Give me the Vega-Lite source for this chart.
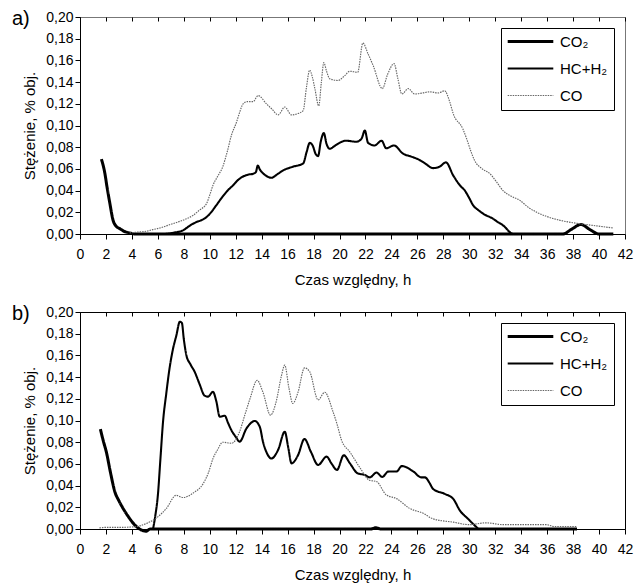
{
  "$schema": "https://vega.github.io/schema/vega-lite/v6.json",
  "padding": {"left": 11, "top": 8, "right": 5, "bottom": 5},
  "spacing": 15,
  "config": {
    "font": "Liberation Sans",
    "axis": {
      "domainColor": "#000", "tickColor": "#000", "labelColor": "#000", "titleColor": "#000",
      "labelFontSize": 14, "titleFontSize": 15, "titleFontWeight": "normal", "grid": false, "tickSize": 5,
      "labelFont": "Liberation Sans", "titleFont": "Liberation Sans"
    },
    "legend": {
      "orient": "top-right", "offset": 11, "padding": 6, "strokeColor": "#000", "fillColor": "#fff",
      "symbolType": "M-4,0H4", "symbolSize": 130, "symbolOffset": 16, "labelFontSize": 15, "labelColor": "#000",
      "labelFont": "Liberation Sans", "rowPadding": 11, "labelOffset": 22, "symbolStrokeColor": "#000"
    },
    "title": {"font": "Liberation Sans", "fontSize": 20, "fontWeight": "normal", "color": "#000"}
  },
  "vconcat": [
    {
      "width": 545, "height": 217,
      "title": {"text": "a)", "anchor": "start", "frame": "group", "dx": -68, "dy": 29, "offset": 0, "baseline": "middle"},
      "view": {"stroke": "#777"},
      "data": {"values": [
        {"s":"CO₂","t":1.65,"c":0.069},{"s":"CO₂","t":1.9,"c":0.057},{"s":"CO₂","t":2.1,"c":0.042},{"s":"CO₂","t":2.29,"c":0.029},{"s":"CO₂","t":2.55,"c":0.0126},{"s":"CO₂","t":2.8,"c":0.007},{"s":"CO₂","t":3.06,"c":0.005},{"s":"CO₂","t":3.4,"c":0.0025},{"s":"CO₂","t":3.83,"c":0.001},{"s":"CO₂","t":4.2,"c":0},{"s":"CO₂","t":10,"c":0},{"s":"CO₂","t":20,"c":0},{"s":"CO₂","t":30,"c":0},{"s":"CO₂","t":37.2,"c":0},{"s":"CO₂","t":37.9,"c":0.0045},{"s":"CO₂","t":38.6,"c":0.0088},{"s":"CO₂","t":39.3,"c":0.004},{"s":"CO₂","t":40.0,"c":0},{"s":"CO₂","t":41.1,"c":0},
        {"s":"HC+H₂","t":4.5,"c":0},{"s":"HC+H₂","t":6.4,"c":0},{"s":"HC+H₂","t":7.2,"c":0.0012},{"s":"HC+H₂","t":7.94,"c":0.0034},{"s":"HC+H₂","t":8.5,"c":0.008},{"s":"HC+H₂","t":8.97,"c":0.011},{"s":"HC+H₂","t":9.4,"c":0.013},{"s":"HC+H₂","t":9.75,"c":0.0156},{"s":"HC+H₂","t":10.1,"c":0.02},{"s":"HC+H₂","t":10.5,"c":0.0264},{"s":"HC+H₂","t":10.9,"c":0.033},{"s":"HC+H₂","t":11.3,"c":0.039},{"s":"HC+H₂","t":11.8,"c":0.045},{"s":"HC+H₂","t":12.2,"c":0.05},{"s":"HC+H₂","t":12.57,"c":0.053},{"s":"HC+H₂","t":13.0,"c":0.0548},{"s":"HC+H₂","t":13.34,"c":0.0555},{"s":"HC+H₂","t":13.55,"c":0.057},{"s":"HC+H₂","t":13.7,"c":0.063},{"s":"HC+H₂","t":13.86,"c":0.0595},{"s":"HC+H₂","t":14.3,"c":0.054},{"s":"HC+H₂","t":14.75,"c":0.0518},{"s":"HC+H₂","t":15.2,"c":0.055},{"s":"HC+H₂","t":15.65,"c":0.0586},{"s":"HC+H₂","t":16.4,"c":0.062},{"s":"HC+H₂","t":17.2,"c":0.065},{"s":"HC+H₂","t":17.45,"c":0.075},{"s":"HC+H₂","t":17.71,"c":0.084},{"s":"HC+H₂","t":17.95,"c":0.081},{"s":"HC+H₂","t":18.15,"c":0.074},{"s":"HC+H₂","t":18.35,"c":0.0718},{"s":"HC+H₂","t":18.55,"c":0.085},{"s":"HC+H₂","t":18.79,"c":0.093},{"s":"HC+H₂","t":19.0,"c":0.083},{"s":"HC+H₂","t":19.25,"c":0.0785},{"s":"HC+H₂","t":19.6,"c":0.081},{"s":"HC+H₂","t":20.0,"c":0.084},{"s":"HC+H₂","t":20.5,"c":0.086},{"s":"HC+H₂","t":21.3,"c":0.085},{"s":"HC+H₂","t":21.7,"c":0.088},{"s":"HC+H₂","t":21.95,"c":0.0954},{"s":"HC+H₂","t":22.2,"c":0.084},{"s":"HC+H₂","t":22.7,"c":0.0816},{"s":"HC+H₂","t":23.24,"c":0.086},{"s":"HC+H₂","t":23.6,"c":0.079},{"s":"HC+H₂","t":24.2,"c":0.0816},{"s":"HC+H₂","t":24.9,"c":0.074},{"s":"HC+H₂","t":25.5,"c":0.0715},{"s":"HC+H₂","t":26.2,"c":0.068},{"s":"HC+H₂","t":26.6,"c":0.065},{"s":"HC+H₂","t":27.2,"c":0.0607},{"s":"HC+H₂","t":27.7,"c":0.062},{"s":"HC+H₂","t":28.2,"c":0.066},{"s":"HC+H₂","t":28.76,"c":0.054},{"s":"HC+H₂","t":29.28,"c":0.0448},{"s":"HC+H₂","t":29.66,"c":0.04},{"s":"HC+H₂","t":30.0,"c":0.033},{"s":"HC+H₂","t":30.3,"c":0.0264},{"s":"HC+H₂","t":30.7,"c":0.022},{"s":"HC+H₂","t":31.07,"c":0.0187},{"s":"HC+H₂","t":31.84,"c":0.014},{"s":"HC+H₂","t":32.2,"c":0.011},{"s":"HC+H₂","t":32.6,"c":0.008},{"s":"HC+H₂","t":33.4,"c":0},{"s":"HC+H₂","t":34.0,"c":0},
        {"s":"CO","t":3.83,"c":0.001},{"s":"CO","t":4.5,"c":0.0018},{"s":"CO","t":5.1,"c":0.0025},{"s":"CO","t":5.6,"c":0.004},{"s":"CO","t":6.15,"c":0.0055},{"s":"CO","t":6.9,"c":0.0085},{"s":"CO","t":7.7,"c":0.0117},{"s":"CO","t":8.2,"c":0.014},{"s":"CO","t":8.7,"c":0.017},{"s":"CO","t":9.2,"c":0.022},{"s":"CO","t":9.75,"c":0.028},{"s":"CO","t":10.0,"c":0.036},{"s":"CO","t":10.25,"c":0.045},{"s":"CO","t":10.6,"c":0.053},{"s":"CO","t":11.0,"c":0.062},{"s":"CO","t":11.35,"c":0.076},{"s":"CO","t":11.67,"c":0.091},{"s":"CO","t":12.06,"c":0.103},{"s":"CO","t":12.3,"c":0.112},{"s":"CO","t":12.57,"c":0.12},{"s":"CO","t":12.9,"c":0.122},{"s":"CO","t":13.34,"c":0.122},{"s":"CO","t":13.73,"c":0.1276},{"s":"CO","t":14.37,"c":0.12},{"s":"CO","t":14.8,"c":0.115},{"s":"CO","t":15.27,"c":0.1098},{"s":"CO","t":15.78,"c":0.117},{"s":"CO","t":16.3,"c":0.1098},{"s":"CO","t":16.8,"c":0.111},{"s":"CO","t":17.2,"c":0.1138},{"s":"CO","t":17.45,"c":0.135},{"s":"CO","t":17.7,"c":0.151},{"s":"CO","t":17.9,"c":0.145},{"s":"CO","t":18.1,"c":0.134},{"s":"CO","t":18.4,"c":0.118},{"s":"CO","t":18.6,"c":0.14},{"s":"CO","t":18.79,"c":0.158},{"s":"CO","t":19.0,"c":0.15},{"s":"CO","t":19.25,"c":0.143},{"s":"CO","t":19.9,"c":0.1415},{"s":"CO","t":20.4,"c":0.146},{"s":"CO","t":20.8,"c":0.15},{"s":"CO","t":21.4,"c":0.149},{"s":"CO","t":21.8,"c":0.176},{"s":"CO","t":22.2,"c":0.166},{"s":"CO","t":22.6,"c":0.155},{"s":"CO","t":23.3,"c":0.134},{"s":"CO","t":23.7,"c":0.147},{"s":"CO","t":24.2,"c":0.157},{"s":"CO","t":24.5,"c":0.143},{"s":"CO","t":24.8,"c":0.129},{"s":"CO","t":25.3,"c":0.134},{"s":"CO","t":25.8,"c":0.129},{"s":"CO","t":26.4,"c":0.13},{"s":"CO","t":26.96,"c":0.131},{"s":"CO","t":27.6,"c":0.13},{"s":"CO","t":28.1,"c":0.132},{"s":"CO","t":28.5,"c":0.1215},{"s":"CO","t":28.76,"c":0.111},{"s":"CO","t":29.5,"c":0.097},{"s":"CO","t":29.8,"c":0.0877},{"s":"CO","t":30.1,"c":0.077},{"s":"CO","t":30.4,"c":0.068},{"s":"CO","t":31.0,"c":0.06},{"s":"CO","t":31.6,"c":0.0555},{"s":"CO","t":32.1,"c":0.048},{"s":"CO","t":32.6,"c":0.04},{"s":"CO","t":33.2,"c":0.035},{"s":"CO","t":33.9,"c":0.031},{"s":"CO","t":34.5,"c":0.025},{"s":"CO","t":35.2,"c":0.02},{"s":"CO","t":36.0,"c":0.016},{"s":"CO","t":37.0,"c":0.0126},{"s":"CO","t":38.5,"c":0.0095},{"s":"CO","t":39.8,"c":0.0075},{"s":"CO","t":41.1,"c":0.0055}
      ]},
      "mark": {"type": "line", "interpolate": "monotone"},
      "encoding": {
        "x": {"field": "t", "type": "quantitative", "scale": {"domain": [0, 42], "nice": false},
              "axis": {"title": "Czas względny, h", "values": [0,2,4,6,8,10,12,14,16,18,20,22,24,26,28,30,32,34,36,38,40,42],
                       "labelPadding": 8, "titlePadding": 11, "grid": true, "gridColor": "#000", "gridDash": [4, 1000], "gridOpacity": 1, "labelFlush": false}},
        "y": {"field": "c", "type": "quantitative", "scale": {"domain": [0, 0.2], "nice": false},
              "axis": {"title": "Stężenie, % obj.", "values": [0,0.02,0.04,0.06,0.08,0.1,0.12,0.14,0.16,0.18,0.2],
                       "labelExpr": "replace(format(datum.value, '.2f'), '.', ',')", "labelPadding": 2, "titlePadding": 8}},
        "color": {"field": "s", "type": "nominal", "scale": {"domain": ["CO₂","HC+H₂","CO"], "range": ["#000","#000","#666"]}, "legend": {"title": null}},
        "strokeWidth": {"field": "s", "type": "nominal", "scale": {"domain": ["CO₂","HC+H₂","CO"], "range": [3, 1.15, 1.1]}, "legend": {"title": null}},
        "strokeDash": {"field": "s", "type": "nominal", "scale": {"domain": ["CO₂","HC+H₂","CO"], "range": [[1,0],[1,0],[1.5,1]]}, "legend": {"title": null}}
      }
    },
    {
      "width": 545, "height": 217,
      "title": {"text": "b)", "anchor": "start", "frame": "group", "dx": -68, "dy": 29, "offset": 0, "baseline": "middle"},
      "view": {"stroke": "#000"},
      "data": {"values": [
        {"s":"CO₂","t":1.57,"c":0.092},{"s":"CO₂","t":1.8,"c":0.081},{"s":"CO₂","t":2.03,"c":0.071},{"s":"CO₂","t":2.35,"c":0.052},{"s":"CO₂","t":2.68,"c":0.0345},{"s":"CO₂","t":3.0,"c":0.026},{"s":"CO₂","t":3.32,"c":0.019},{"s":"CO₂","t":3.75,"c":0.011},{"s":"CO₂","t":4.2,"c":0.004},{"s":"CO₂","t":4.59,"c":0},{"s":"CO₂","t":5.1,"c":-0.002},{"s":"CO₂","t":5.4,"c":0},{"s":"CO₂","t":10,"c":0},{"s":"CO₂","t":20,"c":0},{"s":"CO₂","t":22.4,"c":0},{"s":"CO₂","t":22.8,"c":0.0012},{"s":"CO₂","t":23.2,"c":0},{"s":"CO₂","t":30,"c":0},{"s":"CO₂","t":38.3,"c":0},
        {"s":"HC+H₂","t":5.63,"c":0},{"s":"HC+H₂","t":5.8,"c":0.012},{"s":"HC+H₂","t":6.0,"c":0.031},{"s":"HC+H₂","t":6.2,"c":0.065},{"s":"HC+H₂","t":6.4,"c":0.099},{"s":"HC+H₂","t":6.65,"c":0.125},{"s":"HC+H₂","t":6.9,"c":0.148},{"s":"HC+H₂","t":7.15,"c":0.165},{"s":"HC+H₂","t":7.43,"c":0.1786},{"s":"HC+H₂","t":7.69,"c":0.191},{"s":"HC+H₂","t":7.85,"c":0.19},{"s":"HC+H₂","t":8.0,"c":0.175},{"s":"HC+H₂","t":8.2,"c":0.16},{"s":"HC+H₂","t":8.5,"c":0.152},{"s":"HC+H₂","t":8.84,"c":0.1448},{"s":"HC+H₂","t":9.2,"c":0.134},{"s":"HC+H₂","t":9.6,"c":0.123},{"s":"HC+H₂","t":9.87,"c":0.122},{"s":"HC+H₂","t":10.25,"c":0.1264},{"s":"HC+H₂","t":10.5,"c":0.118},{"s":"HC+H₂","t":10.77,"c":0.1035},{"s":"HC+H₂","t":11.16,"c":0.1044},{"s":"HC+H₂","t":11.4,"c":0.098},{"s":"HC+H₂","t":11.67,"c":0.091},{"s":"HC+H₂","t":12.0,"c":0.085},{"s":"HC+H₂","t":12.3,"c":0.0805},{"s":"HC+H₂","t":12.83,"c":0.0927},{"s":"HC+H₂","t":13.47,"c":0.0995},{"s":"HC+H₂","t":13.86,"c":0.094},{"s":"HC+H₂","t":14.1,"c":0.0805},{"s":"HC+H₂","t":14.4,"c":0.07},{"s":"HC+H₂","t":14.75,"c":0.065},{"s":"HC+H₂","t":15.27,"c":0.073},{"s":"HC+H₂","t":15.78,"c":0.0897},{"s":"HC+H₂","t":16.05,"c":0.075},{"s":"HC+H₂","t":16.3,"c":0.0605},{"s":"HC+H₂","t":16.8,"c":0.068},{"s":"HC+H₂","t":17.3,"c":0.083},{"s":"HC+H₂","t":17.8,"c":0.071},{"s":"HC+H₂","t":18.35,"c":0.059},{"s":"HC+H₂","t":19.0,"c":0.0667},{"s":"HC+H₂","t":19.4,"c":0.06},{"s":"HC+H₂","t":19.8,"c":0.0544},{"s":"HC+H₂","t":20.33,"c":0.068},{"s":"HC+H₂","t":20.8,"c":0.0605},{"s":"HC+H₂","t":21.4,"c":0.0513},{"s":"HC+H₂","t":21.95,"c":0.0498},{"s":"HC+H₂","t":22.33,"c":0.0476},{"s":"HC+H₂","t":22.85,"c":0.052},{"s":"HC+H₂","t":23.3,"c":0.048},{"s":"HC+H₂","t":23.75,"c":0.0529},{"s":"HC+H₂","t":24.4,"c":0.053},{"s":"HC+H₂","t":24.8,"c":0.058},{"s":"HC+H₂","t":25.7,"c":0.0529},{"s":"HC+H₂","t":26.3,"c":0.0476},{"s":"HC+H₂","t":26.58,"c":0.0476},{"s":"HC+H₂","t":26.96,"c":0.042},{"s":"HC+H₂","t":27.2,"c":0.037},{"s":"HC+H₂","t":28.1,"c":0.0324},{"s":"HC+H₂","t":28.76,"c":0.0278},{"s":"HC+H₂","t":29.28,"c":0.017},{"s":"HC+H₂","t":29.9,"c":0.0094},{"s":"HC+H₂","t":30.7,"c":0},
        {"s":"CO","t":1.5,"c":0.001},{"s":"CO","t":2.0,"c":0.0015},{"s":"CO","t":3.0,"c":0.0015},{"s":"CO","t":4.2,"c":0.002},{"s":"CO","t":5.1,"c":0.005},{"s":"CO","t":5.87,"c":0.01},{"s":"CO","t":6.66,"c":0.019},{"s":"CO","t":7.4,"c":0.031},{"s":"CO","t":7.94,"c":0.029},{"s":"CO","t":8.7,"c":0.033},{"s":"CO","t":9.5,"c":0.042},{"s":"CO","t":9.9,"c":0.052},{"s":"CO","t":10.25,"c":0.065},{"s":"CO","t":10.6,"c":0.073},{"s":"CO","t":11.0,"c":0.08},{"s":"CO","t":11.67,"c":0.079},{"s":"CO","t":12.3,"c":0.0897},{"s":"CO","t":12.7,"c":0.105},{"s":"CO","t":13.1,"c":0.12},{"s":"CO","t":13.65,"c":0.137},{"s":"CO","t":14.1,"c":0.126},{"s":"CO","t":14.68,"c":0.105},{"s":"CO","t":15.15,"c":0.119},{"s":"CO","t":15.5,"c":0.14},{"s":"CO","t":15.78,"c":0.151},{"s":"CO","t":16.1,"c":0.13},{"s":"CO","t":16.4,"c":0.1157},{"s":"CO","t":16.8,"c":0.126},{"s":"CO","t":17.3,"c":0.1485},{"s":"CO","t":17.7,"c":0.145},{"s":"CO","t":18.35,"c":0.119},{"s":"CO","t":18.86,"c":0.126},{"s":"CO","t":19.5,"c":0.108},{"s":"CO","t":19.8,"c":0.097},{"s":"CO","t":20.15,"c":0.082},{"s":"CO","t":20.8,"c":0.071},{"s":"CO","t":21.6,"c":0.056},{"s":"CO","t":22.3,"c":0.045},{"s":"CO","t":22.85,"c":0.0437},{"s":"CO","t":23.6,"c":0.0315},{"s":"CO","t":24.4,"c":0.028},{"s":"CO","t":25.4,"c":0.019},{"s":"CO","t":26.45,"c":0.0145},{"s":"CO","t":27.2,"c":0.0094},{"s":"CO","t":28.76,"c":0.0063},{"s":"CO","t":30.0,"c":0.004},{"s":"CO","t":31.3,"c":0.0057},{"s":"CO","t":32.6,"c":0.004},{"s":"CO","t":35.96,"c":0.004},{"s":"CO","t":36.5,"c":0.0023},{"s":"CO","t":38.27,"c":0.0023}
      ]},
      "mark": {"type": "line", "interpolate": "monotone"},
      "encoding": {
        "x": {"field": "t", "type": "quantitative", "scale": {"domain": [0, 42], "nice": false},
              "axis": {"title": "Czas względny, h", "values": [0,2,4,6,8,10,12,14,16,18,20,22,24,26,28,30,32,34,36,38,40,42],
                       "labelPadding": 8, "titlePadding": 11, "grid": true, "gridColor": "#000", "gridDash": [4, 1000], "gridOpacity": 1, "labelFlush": false}},
        "y": {"field": "c", "type": "quantitative", "scale": {"domain": [0, 0.2], "nice": false},
              "axis": {"title": "Stężenie, % obj.", "values": [0,0.02,0.04,0.06,0.08,0.1,0.12,0.14,0.16,0.18,0.2],
                       "labelExpr": "replace(format(datum.value, '.2f'), '.', ',')", "labelPadding": 2, "titlePadding": 8}},
        "color": {"field": "s", "type": "nominal", "scale": {"domain": ["CO₂","HC+H₂","CO"], "range": ["#000","#000","#666"]}, "legend": {"title": null}},
        "strokeWidth": {"field": "s", "type": "nominal", "scale": {"domain": ["CO₂","HC+H₂","CO"], "range": [3, 1.15, 1.1]}, "legend": {"title": null}},
        "strokeDash": {"field": "s", "type": "nominal", "scale": {"domain": ["CO₂","HC+H₂","CO"], "range": [[1,0],[1,0],[1.5,1]]}, "legend": {"title": null}}
      }
    }
  ],
  "resolve": {"scale": {"color": "independent", "strokeWidth": "independent", "strokeDash": "independent"}, "legend": {"color": "independent", "strokeWidth": "independent", "strokeDash": "independent"}}
}
